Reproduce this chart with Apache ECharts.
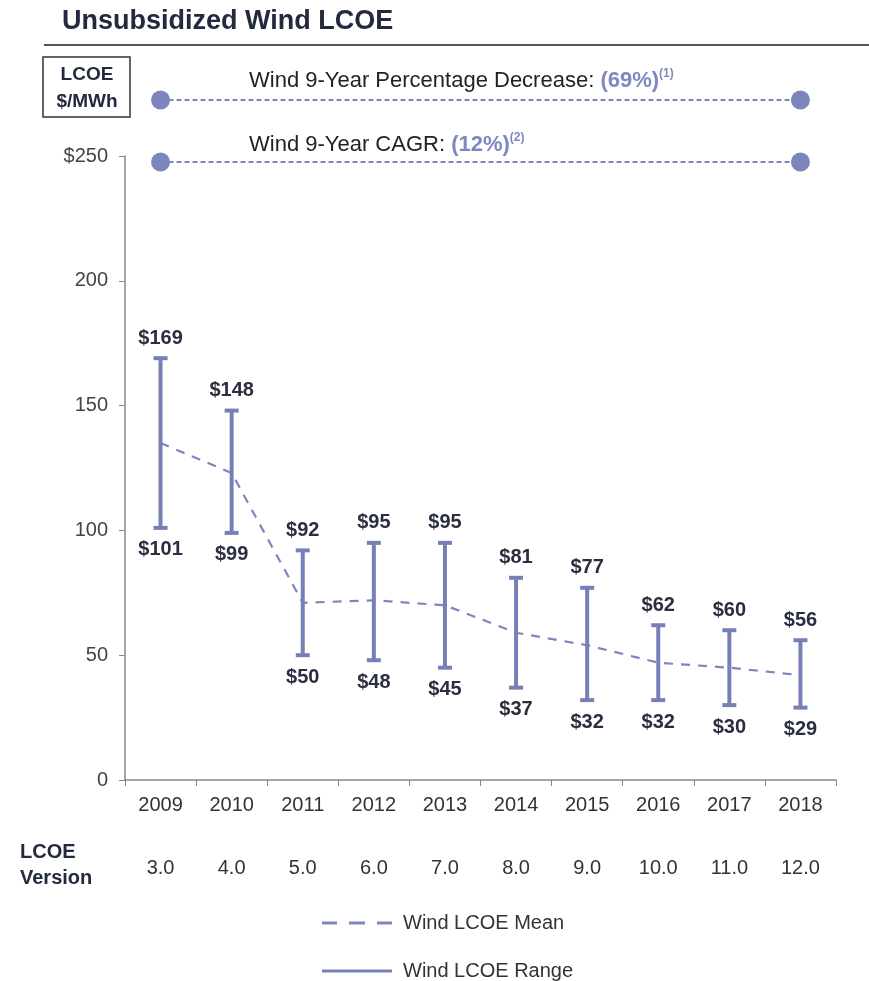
<!DOCTYPE html>
<html>
<head>
<meta charset="utf-8">
<script src="https://cdn.jsdelivr.net/npm/echarts@6/dist/echarts.min.js"></script>
<style>
html,body{margin:0;padding:0;background:#fff;}
#chart{width:869px;height:981px;}
</style>
</head>
<body>
<div id="chart"></div>
<script>
const years = ['2009','2010','2011','2012','2013','2014','2015','2016','2017','2018'];
const versions = ['3.0','4.0','5.0','6.0','7.0','8.0','9.0','10.0','11.0','12.0'];
const rangeLow = [101, 99, 50, 48, 45, 37, 32, 32, 30, 29];
const rangeHigh = [169, 148, 92, 95, 95, 81, 77, 62, 60, 56];
const meanValues = [135, 123, 71, 72, 70, 59, 54, 47, 45, 42];
const yTickMax = 250;
const summaryLabels = ['Wind 9-Year Percentage Decrease:', 'Wind 9-Year CAGR:'];
const summaryValues = ['(69%)', '(12%)'];
const summaryNotes = ['(1)', '(2)'];

const FONT = '"Liberation Sans", Arial, sans-serif';
const BAR = '#7680b6';
const MEAN = '#7c86bc';
const DARK = '#2a2e40';
const ACCENT = '#7f88c0';

const chart = echarts.init(document.getElementById('chart'));

const rangeData = years.map((y, i) => [i, rangeLow[i], rangeHigh[i]]);

function renderRange(params, api) {
  const x = api.value(0);
  const lo = api.coord([x, api.value(1)]);
  const hi = api.coord([x, api.value(2)]);
  const w = 7;
  const ls = {stroke: BAR, lineWidth: 4};
  const ts = {fill: DARK, font: 'bold 20px ' + FONT, align: 'center', verticalAlign: 'middle'};
  return {
    type: 'group',
    children: [
      {type: 'line', shape: {x1: lo[0], y1: lo[1], x2: hi[0], y2: hi[1]}, style: ls},
      {type: 'line', shape: {x1: hi[0] - w, y1: hi[1], x2: hi[0] + w, y2: hi[1]}, style: ls},
      {type: 'line', shape: {x1: lo[0] - w, y1: lo[1], x2: lo[0] + w, y2: lo[1]}, style: ls},
      {type: 'text', x: hi[0], y: hi[1] - 20, style: Object.assign({text: '$' + api.value(2)}, ts)},
      {type: 'text', x: lo[0], y: lo[1] + 22, style: Object.assign({text: '$' + api.value(1)}, ts)}
    ]
  };
}

const summaryGraphics = summaryLabels.map((lab, i) => ({
  type: 'text',
  x: 249,
  y: i === 0 ? 81 : 145,
  style: {
    text: '{a|' + lab + ' }{b|' + summaryValues[i] + '}{s|' + summaryNotes[i] + '}',
    verticalAlign: 'middle',
    rich: {
      a: {fontFamily: FONT, fontSize: 22, fill: '#222', lineHeight: 26},
      b: {fontFamily: FONT, fontSize: 22, fontWeight: 'bold', fill: ACCENT, lineHeight: 26},
      s: {fontFamily: FONT, fontSize: 12, fontWeight: 'bold', fill: ACCENT, verticalAlign: 'top', lineHeight: 26}
    }
  }
}));

const legendText = {fontFamily: FONT, fontSize: 20, color: '#333', padding: [0, 0, 0, 6]};

chart.setOption({
  animation: false,
  backgroundColor: '#fff',
  textStyle: {fontFamily: FONT},
  graphic: [
    {type: 'text', x: 62, y: 22, style: {text: 'Unsubsidized Wind LCOE', font: 'bold 27px ' + FONT, fill: '#232a3e', verticalAlign: 'middle'}},
    {type: 'line', shape: {x1: 44, y1: 45, x2: 869, y2: 45}, style: {stroke: '#555', lineWidth: 2}},
    {type: 'rect', shape: {x: 43, y: 57, width: 87, height: 60}, style: {fill: '#fff', stroke: '#333', lineWidth: 1.5}},
    {type: 'text', x: 87, y: 88, style: {text: 'LCOE\n$/MWh', font: 'bold 19px ' + FONT, fill: '#232a3e', align: 'center', verticalAlign: 'middle', lineHeight: 27}},
    {type: 'text', x: 20, y: 865, style: {text: 'LCOE\nVersion', font: 'bold 20px ' + FONT, fill: '#232a3e', lineHeight: 26, verticalAlign: 'middle'}}
  ].concat(summaryGraphics),
  legend: [
    {
      data: ['Wind LCOE Mean'],
      icon: 'path://M0,0h15v3h-15z M27,0h16v3h-16z M55,0h15v3h-15z',
      left: 317, top: 908, itemWidth: 70, itemHeight: 3, itemGap: 12,
      textStyle: legendText
    },
    {
      data: ['Wind LCOE Range'],
      icon: 'rect',
      left: 317, top: 956, itemWidth: 70, itemHeight: 3, itemGap: 12,
      textStyle: legendText
    }
  ],
  grid: [
    {left: 125, right: 33, top: 156, bottom: 201},
    {left: 125, right: 33, top: 100, height: 62}
  ],
  xAxis: [
    {
      type: 'category', data: years, gridIndex: 0,
      axisLine: {lineStyle: {color: '#888', width: 1.5}},
      axisTick: {show: true, length: 6, lineStyle: {color: '#888'}},
      axisLabel: {fontSize: 20, color: '#333', margin: 15, fontFamily: FONT}
    },
    {
      type: 'category', data: versions, gridIndex: 0, position: 'bottom', offset: 70,
      axisLine: {show: false}, axisTick: {show: false},
      axisLabel: {fontSize: 20, color: '#333', margin: 8, fontFamily: FONT}
    },
    {
      type: 'category', data: years, gridIndex: 1, show: false
    }
  ],
  yAxis: [
    {
      type: 'value', min: 0, max: yTickMax, interval: 50, gridIndex: 0,
      axisLine: {show: true, lineStyle: {color: '#888', width: 1.5}},
      axisTick: {show: true, length: 6, lineStyle: {color: '#888'}},
      splitLine: {show: false},
      axisLabel: {fontSize: 20, color: '#444', margin: 17, fontFamily: FONT,
        formatter: v => v === yTickMax ? '$' + v : String(v)}
    },
    {type: 'value', min: 0, max: 1, gridIndex: 1, show: false}
  ],
  series: [
    {
      name: 'Wind LCOE Mean', type: 'line', xAxisIndex: 0, yAxisIndex: 0,
      data: meanValues, symbol: 'none', z: 2,
      lineStyle: {color: MEAN, width: 2.2, type: [9, 8]},
      itemStyle: {color: MEAN}
    },
    {
      name: 'Wind LCOE Range', type: 'custom', xAxisIndex: 0, yAxisIndex: 0,
      data: rangeData, renderItem: renderRange, z: 3,
      encode: {x: 0, y: [1, 2]},
      itemStyle: {color: BAR}
    },
    {
      name: 'Percentage Decrease', type: 'line', xAxisIndex: 2, yAxisIndex: 1,
      data: [[0, 1], [9, 1]], symbol: 'circle', symbolSize: 19,
      lineStyle: {color: MEAN, width: 2, type: [5, 3]}, itemStyle: {color: MEAN}
    },
    {
      name: 'CAGR', type: 'line', xAxisIndex: 2, yAxisIndex: 1,
      data: [[0, 0], [9, 0]], symbol: 'circle', symbolSize: 19,
      lineStyle: {color: MEAN, width: 2, type: [5, 3]}, itemStyle: {color: MEAN}
    }
  ]
});
</script>
</body>
</html>
